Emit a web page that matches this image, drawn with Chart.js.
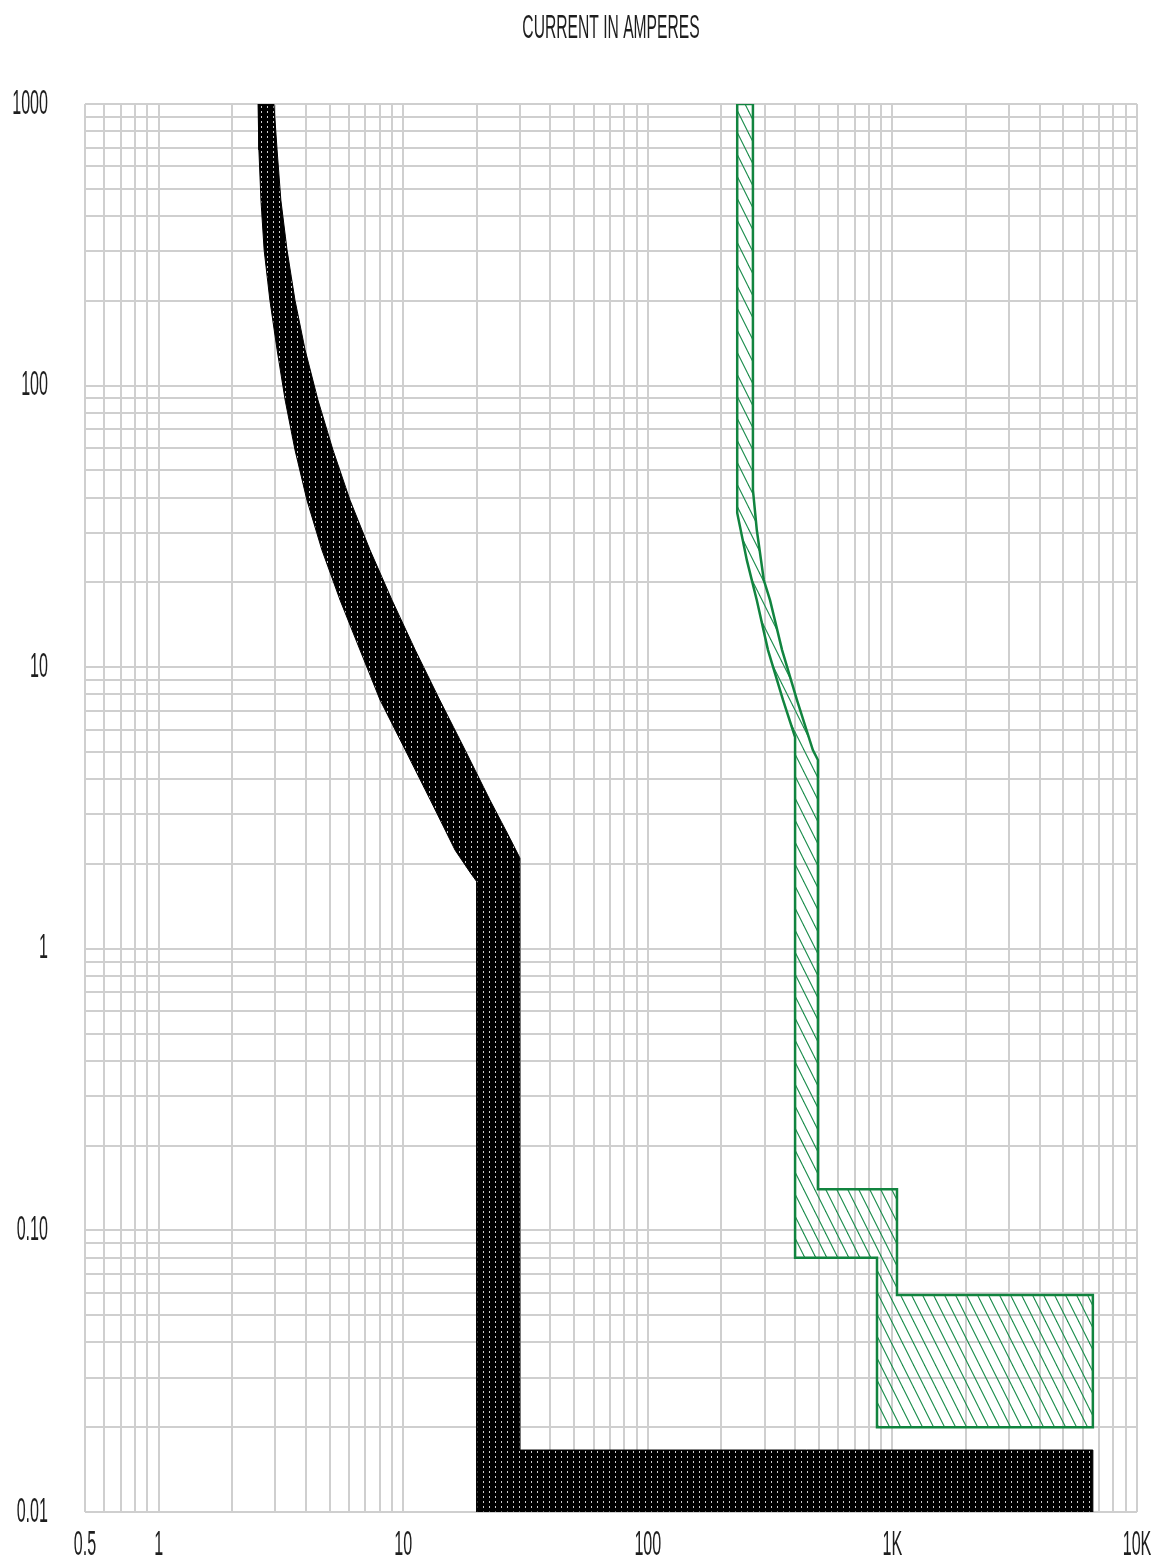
<!DOCTYPE html>
<html>
<head>
<meta charset="utf-8">
<script src="https://cdn.jsdelivr.net/npm/chart.js@4.4.1/dist/chart.umd.min.js"></script>
<style>
html, body { margin: 0; padding: 0; background: #ffffff; }
#wrap { width: 1166px; height: 1567px; position: relative; }
</style>
</head>
<body>
<div id="wrap"><canvas id="c" width="1166" height="1567"></canvas></div>
<script>
// ---------- data ----------
const chartTitle = 'CURRENT IN AMPERES';

const xTickValues = [0.5, 1, 10, 100, 1000, 10000];
const xTickLabels = ['0.5', '1', '10', '100', '1K', '10K'];
const yTickValues = [0.01, 0.1, 1, 10, 100, 1000];
const yTickLabels = ['0.01', '0.10', '1', '10', '100', '1000'];

// black band: minimum curve (current A, time s), top to bottom
const blackMinI = [2.55, 2.57, 2.62, 2.70, 2.85, 3.05, 3.29, 3.61, 4.04, 4.65, 5.52, 6.66, 8.04, 10.2, 12.9, 16.3, 18.75, 20, 20];
const blackMinT = [1000, 687, 456, 303, 201, 134, 88.9, 59.1, 39.2, 26.1, 17.3, 11.5, 7.65, 5.08, 3.38, 2.24, 1.87, 1.73, 0.01];
// black band: instantaneous tail
const blackTailI = [6600, 6600];
const blackTailT = [0.01, 0.0166];
// black band: maximum curve, bottom to top
const blackMaxI = [30, 30, 27.3, 22.6, 17.9, 14.1, 11.2, 9.0, 7.31, 6.06, 5.16, 4.48, 3.97, 3.61, 3.35, 3.16, 3.05, 2.96];
const blackMaxT = [0.0166, 2.10, 2.47, 3.38, 5.08, 7.65, 11.5, 17.3, 26.1, 39.2, 59.1, 88.9, 134, 201, 303, 456, 687, 1000];

// green band: minimum curve, top to bottom
const greenMinI = [232, 232, 254, 279, 310, 357, 400, 400];
const greenMinT = [1000, 35.3, 24.0, 17.3, 11.5, 7.65, 5.65, 0.080];
// green band: steps
const greenStepI = [865, 865, 6600, 6600, 1044, 1044, 496];
const greenStepT = [0.080, 0.020, 0.020, 0.059, 0.059, 0.140, 0.140];
// green band: maximum curve, bottom to top
const greenMaxI = [496, 473, 407, 354, 316, 298, 279, 269, 269];
const greenMaxT = [4.68, 5.08, 7.65, 11.5, 17.3, 20.4, 30.7, 42.6, 1000];

// ---------- helpers ----------
function toPoints(xs, ys) { return xs.map((x, i) => ({ x: x, y: ys[i] })); }
function closedPolygon(parts) {
  let pts = [];
  parts.forEach(p => { pts = pts.concat(toPoints(p[0], p[1])); });
  pts.push({ x: pts[0].x, y: pts[0].y });
  return pts;
}
function logGrid(min, max) {
  const out = [];
  const k0 = Math.floor(Math.log10(min)), k1 = Math.ceil(Math.log10(max));
  for (let k = k0; k <= k1; k++) {
    for (let m = 1; m <= 9; m++) {
      const v = Number((m * Math.pow(10, k)).toPrecision(6));
      if (v >= min * 0.999999 && v <= max * 1.000001) out.push(v);
    }
  }
  return out;
}
function dotPattern() {
  const c = document.createElement('canvas');
  c.width = 6; c.height = 5;
  const g = c.getContext('2d');
  g.fillStyle = '#000000'; g.fillRect(0, 0, 6, 5);
  g.fillStyle = '#cfcfcf'; g.fillRect(3, 1, 1, 2);
  return g.createPattern(c, 'repeat');
}
function hatchPattern() {
  const w = 11, h = 22;
  const c = document.createElement('canvas');
  c.width = w; c.height = h;
  const g = c.getContext('2d');
  g.strokeStyle = 'rgb(25,140,75)';
  g.lineWidth = 1.1;
  for (let k = -1; k <= 1; k++) {
    g.beginPath();
    g.moveTo(k * w - w, -h);
    g.lineTo(k * w + 2 * w, 2 * h);
    g.stroke();
  }
  return g.createPattern(c, 'repeat');
}

// The reference lettering is strongly condensed: Chart.js draws its own text,
// this plugin only squeezes it horizontally around each text anchor.
const TEXT_SQUEEZE = 0.46;
const squeezeText = {
  id: 'squeezeText',
  beforeDraw(chart) {
    const ctx = chart.ctx;
    const orig = CanvasRenderingContext2D.prototype.fillText;
    ctx.fillText = function (t, x, y, mw) {
      this.save();
      this.translate(x, y);
      this.scale(TEXT_SQUEEZE, 1);
      if (mw !== undefined) orig.call(this, t, 0, 0, mw / TEXT_SQUEEZE);
      else orig.call(this, t, 0, 0);
      this.restore();
    };
  },
  afterDraw(chart) { delete chart.ctx.fillText; }
};

const FONT = '"Liberation Sans", Arial, sans-serif';
const GRID = '#cfcfcf';
const TEXT = '#1e1e1e';

const blackPoly = closedPolygon([[blackMinI, blackMinT], [blackTailI, blackTailT], [blackMaxI, blackMaxT]]);
const greenPoly = closedPolygon([[greenMinI, greenMinT], [greenStepI, greenStepT], [greenMaxI, greenMaxT]]);

new Chart(document.getElementById('c'), {
  type: 'scatter',
  plugins: [squeezeText],
  data: {
    datasets: [
      {
        label: 'Breaker',
        data: blackPoly,
        showLine: true,
        fill: 'shape',
        backgroundColor: dotPattern(),
        borderColor: '#000000',
        borderWidth: 1,
        pointRadius: 0,
        tension: 0
      },
      {
        label: 'Fuse',
        data: greenPoly,
        showLine: true,
        fill: 'shape',
        backgroundColor: hatchPattern(),
        borderColor: '#11843f',
        borderWidth: 2.5,
        pointRadius: 0,
        tension: 0
      }
    ]
  },
  options: {
    responsive: false,
    animation: false,
    devicePixelRatio: 1,
    events: [],
    layout: { padding: { left: 0, right: 29, top: 0, bottom: 0 } },
    plugins: {
      legend: { display: false },
      tooltip: { enabled: false },
      title: {
        display: true,
        fullSize: false,
        text: chartTitle,
        color: TEXT,
        font: { family: FONT, size: 34, weight: 'normal', lineHeight: 1.2 },
        padding: { top: 8, bottom: 55.2 }
      }
    },
    scales: {
      x: {
        type: 'logarithmic',
        min: 0.5,
        max: 10000,
        afterBuildTicks: s => { s.ticks = logGrid(0.5, 10000).map(v => ({ value: v })); },
        afterFit: s => { s.height = 55; s.paddingLeft = 0; s.paddingRight = 0; },
        grid: { color: GRID, lineWidth: 2, drawTicks: false },
        border: { display: false },
        ticks: {
          autoSkip: false,
          maxRotation: 0,
          minRotation: 0,
          padding: 12,
          color: TEXT,
          font: { family: FONT, size: 35, lineHeight: 1.2 },
          callback: v => { const i = xTickValues.indexOf(v); return i >= 0 ? xTickLabels[i] : ''; }
        }
      },
      y: {
        type: 'logarithmic',
        min: 0.01,
        max: 1000,
        afterBuildTicks: s => { s.ticks = logGrid(0.01, 1000).map(v => ({ value: v })); },
        afterFit: s => { s.width = 85; s.paddingTop = 0; s.paddingBottom = 0; },
        grid: { color: GRID, lineWidth: 2, drawTicks: false },
        border: { display: false },
        ticks: {
          autoSkip: false,
          padding: 37,
          color: TEXT,
          font: { family: FONT, size: 35, lineHeight: 1.2 },
          callback: v => { const i = yTickValues.indexOf(v); return i >= 0 ? yTickLabels[i] : ''; }
        }
      }
    }
  }
});
</script>
</body>
</html>
